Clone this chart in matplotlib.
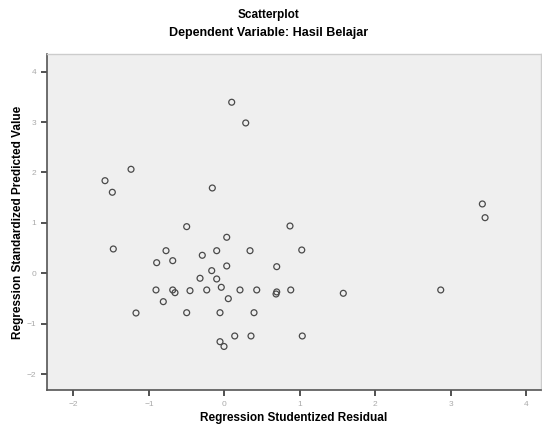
import matplotlib
matplotlib.use('Agg')
import matplotlib.pyplot as plt

# Regression studentized residual vs standardized predicted value
resid = [0.098, 0.284, -1.237, -1.582, -1.485, -0.159, 3.422, 3.458,
         -0.499, 0.871, 0.032, -1.472, -0.773, -0.101, 0.341, 1.027,
         -0.897, -0.684, -0.292, 0.032, 0.695, -0.167, -0.322, -0.101,
         -0.233, -0.040, -0.906, -0.684, -0.654, -0.455, 0.208, 0.430,
         0.686, 0.695, 0.881, 1.578, 2.870, 0.053, -0.809, -1.171,
         -0.499, -0.057, 0.394, 0.138, 0.354, 1.034, -0.057, -0.004]
pred = [3.393, 2.982, 2.063, 1.837, 1.607, 1.692, 1.375, 1.103,
        0.925, 0.938, 0.714, 0.482, 0.448, 0.448, 0.448, 0.462,
        0.210, 0.250, 0.357, 0.145, 0.131, 0.052, -0.099, -0.113,
        -0.331, -0.278, -0.331, -0.331, -0.385, -0.345, -0.331, -0.331,
        -0.411, -0.370, -0.331, -0.397, -0.331, -0.504, -0.563, -0.788,
        -0.782, -0.782, -0.782, -1.244, -1.244, -1.244, -1.357, -1.452]
xticks = [-2, -1, 0, 1, 2, 3, 4]
yticks = [-2, -1, 0, 1, 2, 3, 4]

plt.rcParams['font.family'] = ['Liberation Sans', 'DejaVu Sans']

fig = plt.figure(figsize=(5.42, 4.33), dpi=100)
ax = fig.add_axes([0.0862, 0.0982, 0.912, 0.7771])
ax.set_facecolor('#efefef')

ax.scatter(resid, pred, s=18, facecolors='none', edgecolors='#4a4a4a', linewidths=0.9)

ax.set_xlim(-2.355, 4.2)
ax.set_ylim(-2.325, 4.35)
ax.set_xticks(xticks)
ax.set_yticks(yticks)
ax.tick_params(direction='out', length=4, width=1.2, color='#333333',
               labelsize=6, labelcolor='#aaaaaa')

for s in ['left', 'bottom']:
    ax.spines[s].set_color('#555555')
    ax.spines[s].set_linewidth(1.2)
for s in ['top', 'right']:
    ax.spines[s].set_color('#cccccc')
    ax.spines[s].set_linewidth(1.0)

ax.set_xlabel('Regression Studentized Residual', fontsize=8.5, fontweight='bold', labelpad=3)
ax.set_ylabel('Regression Standardized Predicted Value', fontsize=8.5, fontweight='bold', labelpad=2)

fig.text(0.495, 0.965, 'Scatterplot', ha='center', va='center', fontsize=8.5, fontweight='bold')
fig.text(0.495, 0.924, 'Dependent Variable: Hasil Belajar', ha='center', va='center',
         fontsize=9, fontweight='bold')

fig.savefig('out.png', dpi=100)
